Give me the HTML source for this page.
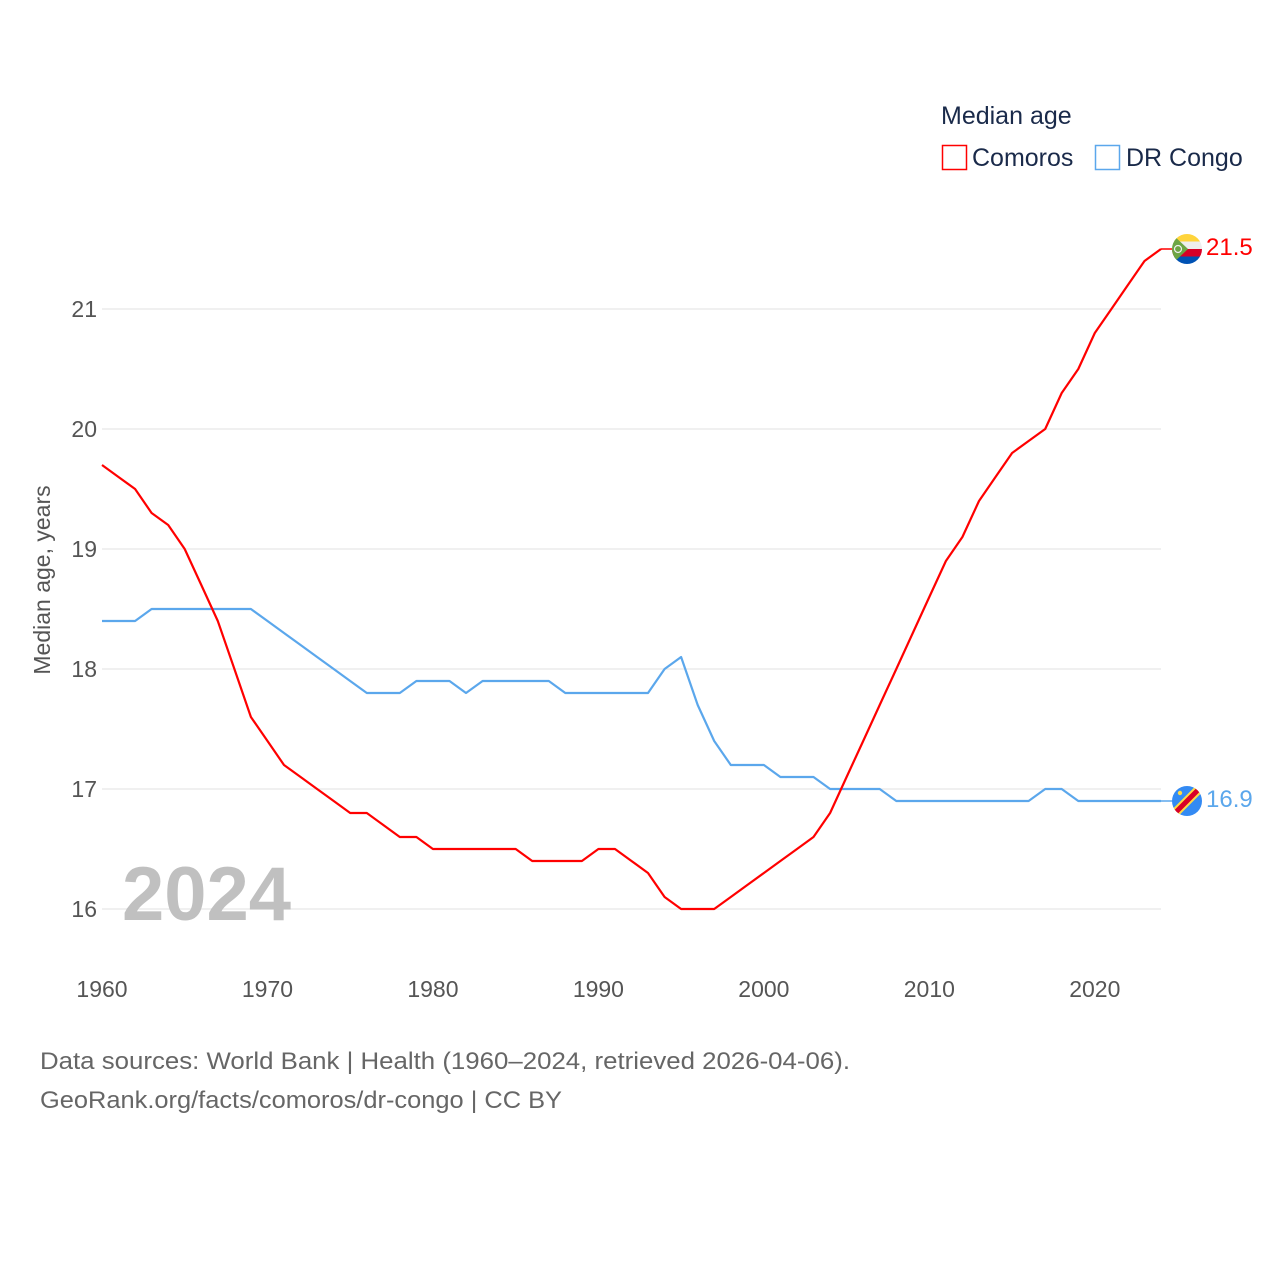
<!DOCTYPE html>
<html><head><meta charset="utf-8">
<style>
body{margin:0;background:#fff;}
svg text{font-family:"Liberation Sans",sans-serif;}
</style></head>
<body>
<svg id="chart" width="1280" height="1280" viewBox="0 0 1280 1280">
  <g id="grid"></g>
  <g id="yticks"></g>
  <g id="xticks"></g>
  <text x="50" y="580" transform="rotate(-90 50 580)" text-anchor="middle" font-size="23" fill="#555">Median age, years</text>
  <text x="122" y="920" font-size="76" font-weight="bold" fill="#c0c0c0">2024</text>
  <g id="series"></g>
  <g>
    <text x="941" y="124" font-size="25" fill="#1a2a4a">Median age</text>
    <g>
      <rect x="942.5" y="145.5" width="24" height="24" fill="none" stroke="#ff0000" stroke-width="1.5"/>
      <text x="972" y="166" font-size="25" fill="#1a2a4a">Comoros</text>
    </g>
    <g>
      <rect x="1095.5" y="145.5" width="24" height="24" fill="none" stroke="#5ba7ec" stroke-width="1.5"/>
      <text x="1126" y="166" font-size="25" fill="#1a2a4a">DR Congo</text>
    </g>
  </g>
  <text x="40" y="1069" font-size="24" fill="#666" textLength="810" lengthAdjust="spacingAndGlyphs">Data sources: World Bank | Health (1960–2024, retrieved 2026-04-06).</text>
  <text x="40" y="1108" font-size="24" fill="#666" textLength="522" lengthAdjust="spacingAndGlyphs">GeoRank.org/facts/comoros/dr-congo | CC BY</text>
</svg>
<script>
const years = [];
for (let y = 1960; y <= 2024; y++) years.push(y);
const comoros = [19.7,19.6,19.5,19.3,19.2,19.0,18.7,18.4,18.0,17.6,17.4,17.2,17.1,17.0,16.9,16.8,16.8,16.7,16.6,16.6,16.5,16.5,16.5,16.5,16.5,16.5,16.4,16.4,16.4,16.4,16.5,16.5,16.4,16.3,16.1,16.0,16.0,16.0,16.1,16.2,16.3,16.4,16.5,16.6,16.8,17.1,17.4,17.7,18.0,18.3,18.6,18.9,19.1,19.4,19.6,19.8,19.9,20.0,20.3,20.5,20.8,21.0,21.2,21.4,21.5];
const drcongo = [18.4,18.4,18.4,18.5,18.5,18.5,18.5,18.5,18.5,18.5,18.4,18.3,18.2,18.1,18.0,17.9,17.8,17.8,17.8,17.9,17.9,17.9,17.8,17.9,17.9,17.9,17.9,17.9,17.8,17.8,17.8,17.8,17.8,17.8,18.0,18.1,17.7,17.4,17.2,17.2,17.2,17.1,17.1,17.1,17.0,17.0,17.0,17.0,16.9,16.9,16.9,16.9,16.9,16.9,16.9,16.9,16.9,17.0,17.0,16.9,16.9,16.9,16.9,16.9,16.9];
const yTicks = [16,17,18,19,20,21];
const xTicks = [1960,1970,1980,1990,2000,2010,2020];

const NS = "http://www.w3.org/2000/svg";
const xs = y => 102 + (y - 1960) * (1161 - 102) / 64;
const ys = v => 909 - (v - 16) * 120;
function mk(tag, attrs, parent){const e=document.createElementNS(NS,tag);for(const k in attrs)e.setAttribute(k,attrs[k]);parent.appendChild(e);return e;}

const grid=document.getElementById('grid'), yt=document.getElementById('yticks'), xt=document.getElementById('xticks'), ser=document.getElementById('series');
yTicks.forEach(v=>{
  const l=mk('line',{x1:102,x2:1161,y1:ys(v),y2:ys(v),stroke:'#e6e6e6','stroke-width':1.2},grid);
  
  
  const t=mk('text',{x:97,y:ys(v)+8,'text-anchor':'end','font-size':23,fill:'#555'},yt);
  t.textContent=v;
  
  
});
xTicks.forEach(y=>{
  const t=mk('text',{x:xs(y),y:997,'text-anchor':'middle','font-size':23,fill:'#555'},xt);
  t.textContent=y;
  
  
});
function line(vals,color,name){
  const d=vals.map((v,i)=>(i?'L':'M')+xs(years[i]).toFixed(1)+','+ys(v).toFixed(1)).join('');
  const p=mk('path',{d:d,fill:'none',stroke:color,'stroke-width':2.2,'stroke-linejoin':'round'},ser);
  
  
}
line(drcongo,'#5ba7ec','line-dr-congo');
line(comoros,'#ff0000','line-comoros');

const cl=comoros[comoros.length-1], dl=drcongo[drcongo.length-1];
const cx=1187, cy=ys(cl), dy=ys(dl);
const c1=mk('line',{x1:1161,x2:1173,y1:cy,y2:cy,stroke:'#ff0000','stroke-width':1.5},ser);


const c2=mk('line',{x1:1161,x2:1173,y1:dy,y2:dy,stroke:'#5ba7ec','stroke-width':1.5},ser);



const fg=mk('g',{},ser);


const cpc=mk('clipPath',{id:'cc'},fg);mk('circle',{cx:cx,cy:cy,r:15},cpc);
const fc=mk('g',{'clip-path':'url(#cc)'},fg);
['#ffd43b','#eeeeee','#d80027','#0052b4'].forEach((c,i)=>mk('rect',{x:cx-15,y:cy-15+i*7.5,width:30,height:7.5,fill:c},fc));
mk('polygon',{points:`${cx-15},${cy-15} ${cx+1},${cy} ${cx-15},${cy+15}`,fill:'#6da544'},fc);
mk('circle',{cx:cx-9,cy:cy,r:3.5,fill:'none',stroke:'#eee','stroke-width':1.2},fc);
const ct=mk('text',{x:1206,y:cy+6,'font-size':24,fill:'#ff0000'},ser);
ct.textContent=cl.toFixed(1);



const dg=mk('g',{},ser);


const cp=mk('clipPath',{id:'dc'},dg);mk('circle',{cx:cx,cy:dy,r:15},cp);
const dcg=mk('g',{'clip-path':'url(#dc)'},dg);
mk('rect',{x:cx-15,y:dy-15,width:30,height:30,fill:'#338af3'},dcg);
mk('line',{x1:cx-16,y1:dy+16,x2:cx+16,y2:dy-16,stroke:'#ffda44','stroke-width':9},dcg);
mk('line',{x1:cx-16,y1:dy+16,x2:cx+16,y2:dy-16,stroke:'#d80027','stroke-width':5},dcg);
mk('circle',{cx:cx-7,cy:dy-8,r:2.2,fill:'#ffda44'},dcg);
const dt=mk('text',{x:1206,y:dy+6,'font-size':24,fill:'#5ba7ec'},ser);
dt.textContent=dl.toFixed(1);


</script>
</body></html>
